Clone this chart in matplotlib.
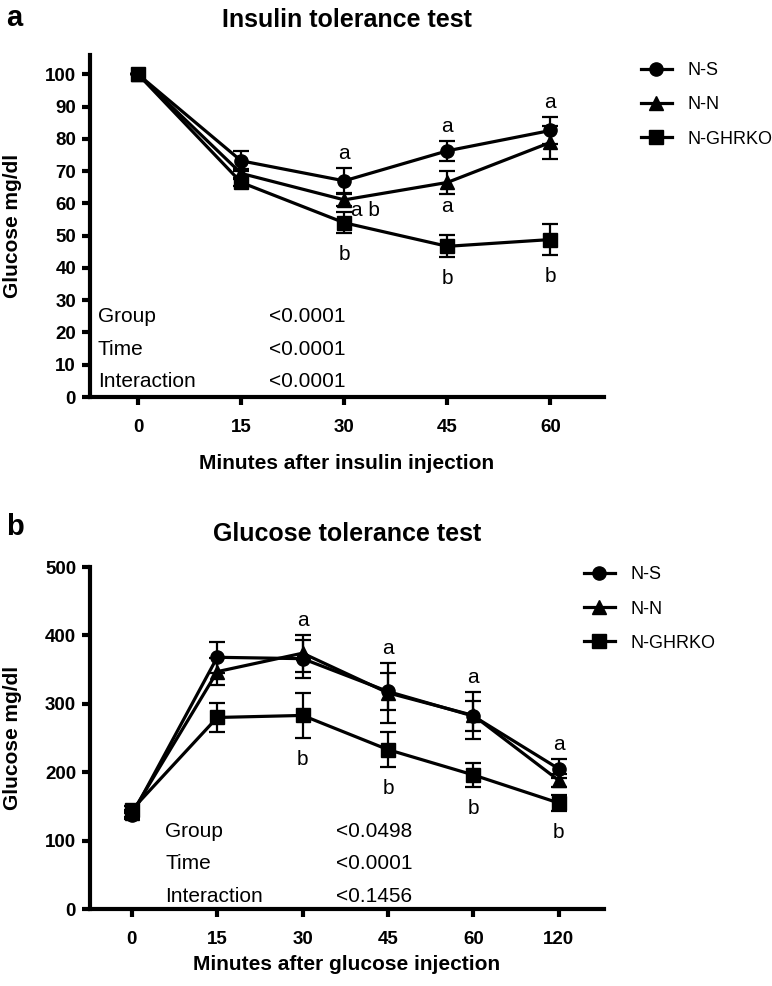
import matplotlib
matplotlib.use('Agg')
import matplotlib.pyplot as plt
from matplotlib.lines import Line2D

plt.rcParams['font.family'] = ['Liberation Sans', 'DejaVu Sans']

groups = ['N-S', 'N-N', 'N-GHRKO']
markers = ['o', '^', 's']

# insulin tolerance test (% of basal glucose)
itt_minutes = [0, 15, 30, 45, 60]
itt_mean = {
    'N-S': [100, 73.2, 67.0, 76.3, 82.6],
    'N-N': [100, 69.3, 61.1, 66.5, 78.9],
    'N-GHRKO': [100, 66.5, 54.0, 46.7, 48.8],
}
itt_sem = {
    'N-S': [0, 3.0, 4.0, 3.0, 4.3],
    'N-N': [0, 1.5, 2.0, 3.5, 5.0],
    'N-GHRKO': [0, 1.0, 3.2, 3.4, 4.7],
}
itt_stats = [('Group', '<0.0001'), ('Time', '<0.0001'), ('Interaction', '<0.0001')]

# glucose tolerance test (mg/dl)
gtt_labels = ['0', '15', '30', '45', '60', '120']
gtt_mean = {
    'N-S': [137, 368, 366, 318, 282, 205],
    'N-N': [140, 347, 374, 316, 283, 188],
    'N-GHRKO': [145, 280, 283, 233, 196, 155],
}
gtt_sem = {
    'N-S': [5, 23, 28, 27, 22, 14],
    'N-N': [5, 20, 27, 44, 34, 10],
    'N-GHRKO': [5, 21, 33, 26, 17, 12],
}
gtt_stats = [('Group', '<0.0498'), ('Time', '<0.0001'), ('Interaction', '<0.1456')]

# significance letters: (group, time index, text, placement)
itt_letters = [('N-S', 2, 'a', 'above'), ('N-S', 3, 'a', 'above'), ('N-S', 4, 'a', 'above'),
               ('N-N', 3, 'a', 'below_a'), ('N-N', 2, 'a b', 'right'),
               ('N-GHRKO', 2, 'b', 'below'), ('N-GHRKO', 3, 'b', 'below'), ('N-GHRKO', 4, 'b', 'below')]
gtt_letters = [('N-N', 2, 'a', 'above'), ('N-N', 3, 'a', 'above'), ('N-N', 4, 'a', 'above'),
               ('N-S', 5, 'a', 'above'),
               ('N-GHRKO', 2, 'b', 'below'), ('N-GHRKO', 3, 'b', 'below'),
               ('N-GHRKO', 4, 'b', 'below'), ('N-GHRKO', 5, 'b', 'below')]


def draw_panel(ax, x, means, sems, letters, stats, stats_xy, title, xlabel,
               title_pad, xlabel_pad, legend_xy):
    for g, m in zip(groups, markers):
        ax.errorbar(x, means[g], yerr=sems[g], fmt='none', ecolor='black',
                    elinewidth=1.6, capsize=5.5, capthick=1.6, zorder=2)
        ax.plot(x, means[g], color='black', lw=2.3, marker=m, ms=9.5,
                clip_on=False, zorder=3)
    for g, i, txt, where in letters:
        if where == 'above':
            xy = (x[i], means[g][i] + sems[g][i])
            off = (0, 10.5)
        elif where == 'below':
            xy = (x[i], means[g][i] - sems[g][i])
            off = (0, -15.5)
        elif where == 'below_a':
            xy = (x[i], means[g][i] - sems[g][i])
            off = (0, -9.5)
        else:
            xy = (x[i], means[g][i])
            off = (15, -8)
        ax.annotate(txt, xy, xytext=off, textcoords='offset points',
                    ha='center', va='center', fontsize=15)
    sx, vx, sy, dy = stats_xy
    for k, (name, p) in enumerate(stats):
        ax.text(sx, sy - k * dy, name, fontsize=15, va='center', ha='left')
        ax.text(vx, sy - k * dy, p, fontsize=15, va='center', ha='left')

    ax.set_title(title, fontsize=18, fontweight='bold', pad=title_pad)
    ax.set_xlabel(xlabel, fontsize=15, fontweight='bold', labelpad=xlabel_pad)
    ax.set_ylabel('Glucose mg/dl', fontsize=15, fontweight='bold')
    ax.yaxis.set_label_coords(-68 / 514, 0.5)
    for s in ['top', 'right']:
        ax.spines[s].set_visible(False)
    for s in ['left', 'bottom']:
        ax.spines[s].set_linewidth(3)
    ax.tick_params(direction='out', length=6, width=3, labelsize=13.5)
    ax.tick_params(axis='x', pad=10)
    ax.tick_params(axis='y', pad=4)
    for lab in ax.get_xticklabels() + ax.get_yticklabels():
        lab.set_fontweight('bold')

    handles = [Line2D([], [], color='black', lw=2.3, marker=m, ms=9.5) for m in markers]
    ax.legend(handles, groups, loc='upper left', bbox_to_anchor=legend_xy,
              frameon=False, fontsize=13, handlelength=1.7, handletextpad=0.9,
              labelspacing=0.95, borderaxespad=0)


fig = plt.figure(figsize=(7.72, 9.86), dpi=100)

ax1 = fig.add_axes([90 / 772, 1 - 397 / 986, 514 / 772, 342 / 986])
ax1.set_xlim(-7.0, 67.8)
ax1.set_ylim(0, 106)
ax1.set_xticks(itt_minutes)
ax1.set_yticks(range(0, 101, 10))
draw_panel(ax1, itt_minutes, itt_mean, itt_sem, itt_letters, itt_stats,
           (-5.85, 19.1, 24.9, 10.1),
           'Insulin tolerance test', 'Minutes after insulin injection',
           20, 13, (1.058, 1.0))

ax2 = fig.add_axes([90 / 772, 1 - 909 / 986, 514 / 772, 342 / 986])
gx = list(range(len(gtt_labels)))
ax2.set_xlim(-0.49, 5.53)
ax2.set_ylim(0, 500)
ax2.set_xticks(gx)
ax2.set_xticklabels(gtt_labels)
ax2.set_yticks(range(0, 501, 100))
draw_panel(ax2, gx, gtt_mean, gtt_sem, gtt_letters, gtt_stats,
           (0.39, 2.39, 113, 47),
           'Glucose tolerance test', 'Minutes after glucose injection',
           19, 5, (0.947, 1.023))

fig.text(6 / 772, 1 - 18 / 986, 'a', fontsize=21, fontweight='bold', va='center', ha='left')
fig.text(6 / 772, 1 - 527 / 986, 'b', fontsize=21, fontweight='bold', va='center', ha='left')

fig.savefig('out.png', dpi=100)
